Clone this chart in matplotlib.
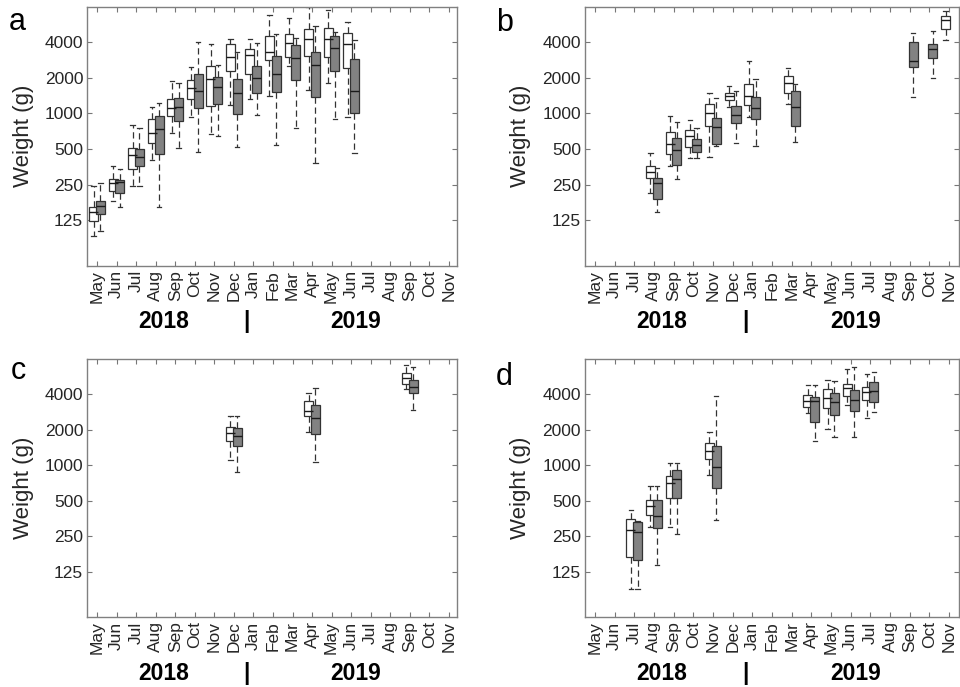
import matplotlib
matplotlib.use("Agg")  # no display
import matplotlib.pyplot as plt

plt.rcParams['font.family'] = ['Liberation Sans', 'DejaVu Sans']

# x axis: months from May 2018 to Nov 2019
months = ['May', 'Jun', 'Jul', 'Aug', 'Sep', 'Oct', 'Nov', 'Dec', 'Jan', 'Feb',
          'Mar', 'Apr', 'May', 'Jun', 'Jul', 'Aug', 'Sep', 'Oct', 'Nov']
yticks = [125, 250, 500, 1000, 2000, 4000]

# box stats: (low whisker, q1, median, q3, high whisker), weight in g
# panel a
a_white_pos = [1, 2, 3, 4, 5, 6, 7, 8, 9, 10, 11, 12, 13, 14]
a_white = [(91, 122, 146, 161, 241), (182, 221, 257, 279, 362),
           (244, 342, 446, 514, 800), (405, 560, 689, 893, 1143),
           (689, 952, 1107, 1319, 1896), (941, 1319, 1633, 1922, 2490),
           (668, 1158, 1960, 2523, 3846), (1181, 2290, 2987, 3846, 4264),
           (1319, 2160, 3126, 3490, 4235), (1414, 2833, 3335, 4512, 6808),
           (2522, 3025, 3970, 4700, 6383), (1583, 3066, 4263, 5151, 7908),
           (1825, 3025, 4263, 5315, 7501), (940, 2412, 3870, 4768, 5975)]
a_grey_pos = [1, 2, 3, 4, 5, 6, 7, 8, 9, 10, 11, 12, 13, 14]
a_grey = [(102, 141, 165, 181, 260), (161, 212, 264, 271, 340),
          (244, 362, 426, 500, 749), (163, 452, 735, 952, 1220),
          (508, 864, 1128, 1344, 1824), (476, 1107, 1561, 2160, 4053),
          (646, 1204, 1664, 2050, 2572), (525, 985, 1501, 1947, 3340),
          (972, 1481, 1985, 2527, 3974), (541, 1530, 2160, 3066, 4700),
          (750, 1923, 2929, 3795, 4330), (384, 1371, 2571, 3295, 5525),
          (894, 2302, 3557, 4548, 4900), (460, 1004, 1560, 2873, 4180)]

# panel b
b_white_pos = [4, 5, 6, 7, 8, 9, 11, 19]
b_white = [(214, 283, 322, 356, 461), (356, 455, 552, 703, 960),
           (418, 518, 646, 727, 882), (426, 784, 1004, 1204, 1501),
           (1143, 1302, 1407, 1501, 1709), (929, 1172, 1407, 1765, 2781),
           (1204, 1501, 1824, 2069, 2412), (4185, 5186, 6177, 6723, 7412)]
b_grey_pos = [4, 5, 6, 7, 8, 9, 11, 17, 18]
b_grey = [(148, 190, 260, 283, 348), (279, 369, 492, 617, 853),
          (418, 473, 543, 606, 749), (532, 552, 764, 911, 1344),
          (567, 826, 972, 1165, 1561), (535, 905, 1121, 1371, 1960),
          (570, 789, 1128, 1551, 1765), (1388, 2459, 2797, 4000, 4830),
          (1985, 2929, 3510, 3872, 5020)]

# panel c
c_white_pos = [8, 12, 17]
c_white = [(1120, 1599, 1896, 2117, 2604), (1906, 2640, 2911, 3536, 4157),
           (4444, 4900, 5572, 6142, 7096)]
c_grey_pos = [8, 12, 17]
c_grey = [(886, 1451, 1789, 2069, 2640), (1077, 1848, 2524, 3276, 4530),
          (2950, 4078, 4675, 5257, 6906)]

# panel d
d_white_pos = [3, 4, 5, 7, 12, 13, 14, 15]
d_white = [(90, 167, 284, 352, 420), (299, 383, 457, 513, 665),
           (299, 527, 711, 808, 1042), (830, 1135, 1317, 1551, 1935),
           (2761, 3103, 3490, 3953, 4835), (2037, 3044, 3700, 4444, 5297),
           (3250, 3847, 4530, 4955, 6640), (2524, 3590, 4237, 4675, 5951)]
d_grey_pos = [3, 4, 5, 7, 12, 13, 14, 15]
d_grey = [(90, 159, 270, 330, 335), (142, 296, 374, 510, 665),
          (263, 527, 769, 916, 1042), (345, 645, 977, 1451, 3900),
          (1622, 2316, 3536, 3775, 4835), (1729, 2692, 3474, 4157, 5157),
          (1729, 2911, 3590, 4354, 6906), (2861, 3474, 4295, 5124, 6262)]

edge = '#333333'
txt = '#262626'


def draw_boxes(ax, pos, stats, offset, color):
    bx = [dict(whislo=s[0], q1=s[1], med=s[2], q3=s[3], whishi=s[4]) for s in stats]
    ax.bxp(bx, positions=[p + offset for p in pos], widths=0.46, capwidths=0.22,
           patch_artist=True, showfliers=False, manage_ticks=False,
           boxprops=dict(facecolor=color, edgecolor=edge, linewidth=0.9),
           whiskerprops=dict(color=edge, linestyle=(0, (5, 3)), linewidth=0.9),
           capprops=dict(color=edge, linewidth=0.9),
           medianprops=dict(color='#1a1a1a', linewidth=1.0))


def setup(ax, letter, xmax, lx, ly):
    ax.set_yscale('log', base=2)
    ax.set_ylim(51.5, 8000)
    ax.set_xlim(0.5, xmax)
    ax.set_yticks(yticks)
    ax.set_yticklabels([str(t) for t in yticks])
    ax.minorticks_off()
    ax.set_xticks(range(1, 20))
    ax.set_xticklabels(months, rotation=90)
    ax.tick_params(direction='in', top=True, right=True, length=3.5, width=0.8,
                   color='#777777', labelsize=12.5, labelcolor=txt, pad=3)
    for s in ax.spines.values():
        s.set_color('#808080')
        s.set_linewidth(1.0)
    ax.text(-0.172, 0.5, 'Weight (g)', rotation=90, ha='center', va='center',
            fontsize=16, color=txt, transform=ax.transAxes)
    tr = ax.get_xaxis_transform()
    ax.text(4.4, -0.217, '2018', ha='center', va='center', fontsize=16.5,
            fontweight='bold', color='black', transform=tr)
    ax.text(8.65, -0.217, '|', ha='center', va='center', fontsize=16.5,
            fontweight='bold', color='black', transform=tr)
    ax.text(14.25, -0.217, '2019', ha='center', va='center', fontsize=16.5,
            fontweight='bold', color='black', transform=tr)
    fig.text(lx, ly, letter, fontsize=22, color='black', va='baseline', ha='left')


fig = plt.figure(figsize=(9.6, 6.87), dpi=100)
W, H = 960.0, 687.0
ax_a = fig.add_axes([87.3 / W, 1 - 265.7 / H, 369.4 / W, 259 / H])
ax_b = fig.add_axes([585 / W, 1 - 265.7 / H, 374 / W, 259 / H])
ax_c = fig.add_axes([87.3 / W, 1 - 617.3 / H, 369.4 / W, 258.3 / H])
ax_d = fig.add_axes([585 / W, 1 - 617.3 / H, 374 / W, 258.3 / H])

panels = [
    (ax_a, 'a', 19.4, a_white_pos, a_white, a_grey_pos, a_grey, 9 / W, 1 - 30 / H),
    (ax_b, 'b', 19.5, b_white_pos, b_white, b_grey_pos, b_grey, 496 / W, 1 - 31 / H),
    (ax_c, 'c', 19.4, c_white_pos, c_white, c_grey_pos, c_grey, 11 / W, 1 - 379 / H),
    (ax_d, 'd', 19.5, d_white_pos, d_white, d_grey_pos, d_grey, 496 / W, 1 - 385 / H),
]
for ax, letter, xmax, wp, ws, gp, gs, lx, ly in panels:
    draw_boxes(ax, wp, ws, -0.18, 'white')
    draw_boxes(ax, gp, gs, 0.17, '#828282')
    setup(ax, letter, xmax, lx, ly)

plt.savefig('out.png', dpi=100)
